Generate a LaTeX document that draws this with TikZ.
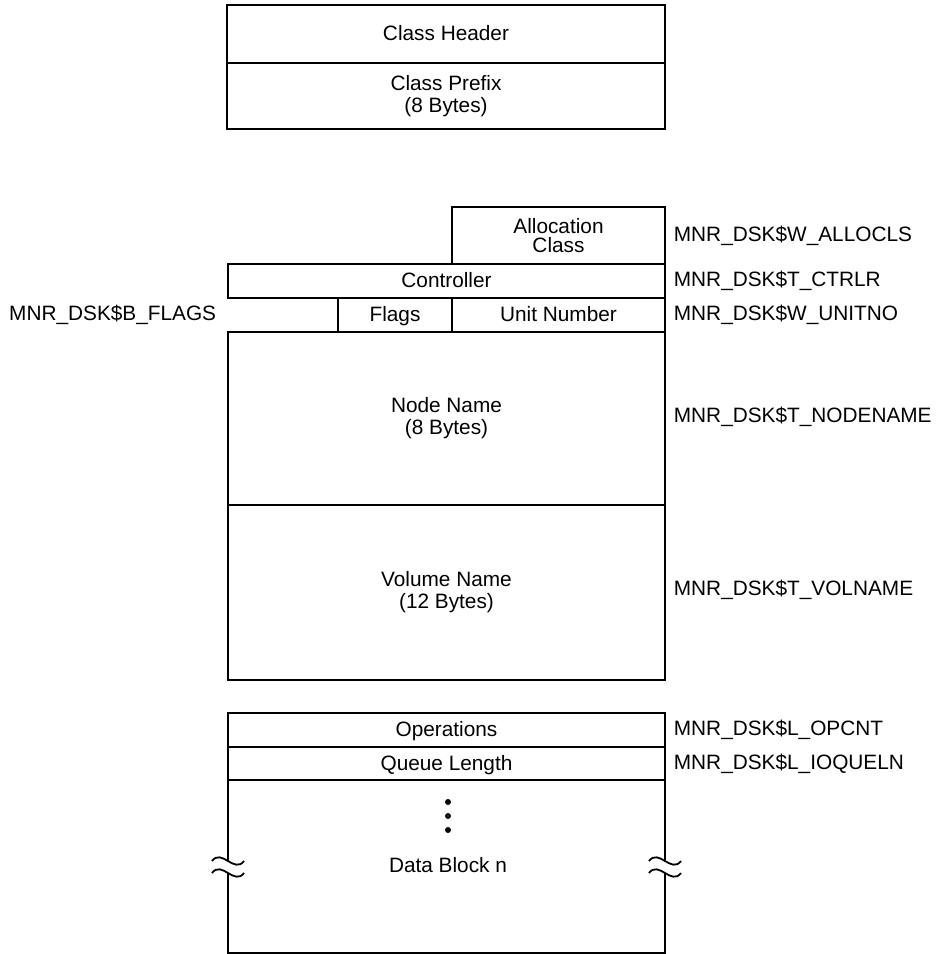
\documentclass[tikz,border=0pt]{standalone}
\usepackage{fontspec}
\setmainfont{Liberation Sans}

\begin{document}
\begin{tikzpicture}[x=0.5pt, y=-0.5pt, line width=0.9pt,
    cell/.style={draw, rectangle, inner sep=0pt, outer sep=0pt, align=center,
                 font=\fontsize{10.4}{11}\selectfont},
    row/.style={cell, text height=7.5pt, text depth=1pt},
    lbl/.style={inner sep=0pt, font=\fontsize{10.4}{11}\selectfont}]
  \useasboundingbox (0,0) rectangle (936,954);
  % Class header and prefix
  \node[row, minimum width=219pt, minimum height=29pt] (hdr) at (446,34) {Class Header};
  \node[cell, minimum width=219pt, minimum height=33pt] (prefix) at (446,96) {Class Prefix\\(8 Bytes)};
  % Disk fields
  \node[cell, minimum width=106.5pt, minimum height=28.5pt,
        font=\fontsize{10.4}{9.6}\selectfont] (alloc) at (558.5,235.5) {Allocation\\Class};
  \node[row, minimum width=218.5pt, minimum height=17pt] (ctrl) at (446.5,281) {Controller};
  \node[row, minimum width=57pt, minimum height=17pt] (flags) at (395,315) {Flags};
  \node[row, minimum width=106.5pt, minimum height=17pt] (unit) at (558.5,315) {Unit Number};
  \node[cell, minimum width=218.5pt, minimum height=86.5pt] (nname) at (446.5,418.5) {Node Name\\(8 Bytes)};
  \node[cell, minimum width=218.5pt, minimum height=87.5pt] (vname) at (446.5,592.5) {Volume Name\\(12 Bytes)};
  % Counters and data block
  \node[row, minimum width=218.5pt, minimum height=17pt] (ops) at (446.5,730) {Operations};
  \node[row, minimum width=218.5pt, minimum height=16.5pt] (queue) at (446.5,763.5) {Queue Length};
  \node[cell, minimum width=218.5pt, minimum height=86.5pt] (data) at (446.5,866.5) {};
  \node[lbl] (dbn) at (448,865) {Data Block n};
  \foreach \dy in {802,816,830}
    \fill (448,\dy) circle (1.5pt);
  % break marks on both sides
  \foreach \bx in {228,665} {
    \fill[white] (\bx-3,861) rectangle (\bx+3,873);
    \draw (\bx-16,861) .. controls (\bx-6,848) and (\bx+6,874) .. (\bx+16,861);
    \draw (\bx-16,873) .. controls (\bx-6,860) and (\bx+6,886) .. (\bx+16,873);
  }
  % field names
  \node[lbl, anchor=west] (allocls) at (673,236) {MNR\_DSK\$W\_ALLOCLS};
  \node[lbl, anchor=west] (ctrlr) at ([xshift=4pt]ctrl.east) {MNR\_DSK\$T\_CTRLR};
  \node[lbl, anchor=west] (unitno) at ([xshift=4pt]unit.east) {MNR\_DSK\$W\_UNITNO};
  \node[lbl, anchor=west] (nodename) at (673,417) {MNR\_DSK\$T\_NODENAME};
  \node[lbl, anchor=west] (volname) at (673,590) {MNR\_DSK\$T\_VOLNAME};
  \node[lbl, anchor=west] (opcnt) at ([xshift=4pt]ops.east) {MNR\_DSK\$L\_OPCNT};
  \node[lbl, anchor=west] (ioqueln) at ([xshift=4pt]queue.east) {MNR\_DSK\$L\_IOQUELN};
  \node[lbl, anchor=east] (bflags) at (217,315) {MNR\_DSK\$B\_FLAGS};
\end{tikzpicture}
\end{document}
